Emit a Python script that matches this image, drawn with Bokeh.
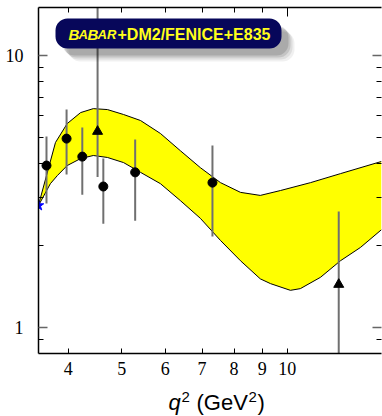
import math
from bokeh.plotting import figure
from bokeh.layouts import column
from bokeh.models import (Range1d, LogAxis, FixedTicker, BoxAnnotation, Label,
                          PrintfTickFormatter)
from bokeh.core.properties import value
from bokeh.embed import file_html
from bokeh.resources import INLINE

# ---------------- data ----------------
band_upper_q2 = [3.53, 3.79, 3.98, 4.21, 4.44, 4.71, 5.04, 5.41, 5.88, 6.39,
                 6.95, 7.56, 8.22, 8.93, 9.72, 11.02, 12.49, 14.83]
band_upper = [2.82, 4.79, 5.62, 6.17, 6.38, 6.33, 6.07, 5.77, 5.17, 4.47,
              3.87, 3.41, 3.14, 3.06, 3.19, 3.41, 3.68, 4.08]
band_lower_q2 = [3.53, 3.71, 3.82, 3.98, 4.21, 4.44, 4.71, 5.04, 5.41, 5.88,
                 6.39, 6.95, 7.56, 8.22, 8.93, 9.32, 10.13, 10.56, 11.49,
                 12.49, 13.58, 14.83]
band_lower = [2.81, 3.38, 3.62, 3.94, 4.18, 4.29, 4.22, 4.04, 3.72, 3.38,
              2.93, 2.52, 2.09, 1.76, 1.51, 1.45, 1.37, 1.39, 1.53,
              1.76, 1.97, 2.29]

circ_q2 = [3.65, 3.97, 4.24, 4.63, 5.29, 7.31]
circ_val = [3.94, 4.95, 4.25, 3.30, 3.72, 3.41]
circ_hi = [5.04, 6.33, 5.44, 4.18, 4.91, 4.67]
circ_lo = [2.86, 3.65, 3.08, 2.41, 2.47, 2.16]

tri_q2 = [4.52, 12.4]
tri_val = [5.26, 1.44]
tri_hi = [20.0, 2.67]
tri_lo = [3.58, 0.5]

star_q2 = [3.53]
star_val = [2.81]

x_ticks = [4, 5, 6, 7, 8, 9, 10]
y_major = [1, 10]
y_minor = [0.9, 2, 3, 4, 5, 6, 7, 8, 9]

X_START, X_END = 3.53, 14.83
Y_START, Y_END = 0.8026, 15.02

W, H = 382, 416
H_MAIN = 386
FL, FR, FT, FB = 38, 381, 7, 353   # frame edges in pixels


def px_x(px):
    a, b = math.log10(X_START), math.log10(X_END)
    return 10 ** (a + (px - FL) / (FR - FL) * (b - a))


def px_y(py):
    a, b = math.log10(Y_START), math.log10(Y_END)
    return 10 ** (a + (FB - py) / (FB - FT) * (b - a))


p = figure(width=W, height=H_MAIN, x_axis_type="log", y_axis_type="log",
           x_range=Range1d(X_START, X_END), y_range=Range1d(Y_START, Y_END),
           output_backend="svg", toolbar_location=None,
           min_border_left=FL, min_border_right=W - FR,
           min_border_top=FT, min_border_bottom=H_MAIN - FB)
p.grid.visible = False
p.outline_line_color = None
p.background_fill_color = "white"
p.border_fill_color = "white"

TICK_FONT = "Liberation Serif"

# bottom axis
xa = p.xaxis[0]
xa.ticker = FixedTicker(ticks=x_ticks, minor_ticks=[])
xa.formatter = PrintfTickFormatter(format="%d")
xa.major_tick_in = 5
xa.major_tick_out = 0
xa.major_tick_line_color = "black"
xa.axis_line_color = "black"
xa.axis_line_width = 1.5
xa.major_label_text_font = TICK_FONT
xa.major_label_text_font_size = "18px"
xa.major_label_text_color = "black"
xa.major_label_standoff = 8

# left axis
ya = p.yaxis[0]
ya.ticker = FixedTicker(ticks=y_major, minor_ticks=y_minor)
ya.formatter = PrintfTickFormatter(format="%d")
ya.major_tick_in = 9
ya.major_tick_out = 0
ya.minor_tick_in = 5
ya.minor_tick_out = 0
ya.major_tick_line_color = "#666666"
ya.major_tick_line_width = 1.5
ya.minor_tick_line_color = "black"
ya.axis_line_color = "black"
ya.axis_line_width = 1.5
ya.major_label_text_font = TICK_FONT
ya.major_label_text_font_size = "18px"
ya.major_label_text_color = "black"
ya.major_label_standoff = 15

# top axis (ticks only)
ta = LogAxis(ticker=FixedTicker(ticks=[10], minor_ticks=[4, 5, 6, 7, 8, 9]))
ta.major_tick_in = 9
ta.major_tick_out = 0
ta.minor_tick_in = 5
ta.minor_tick_out = 0
ta.major_label_text_font_size = "1px"
ta.major_label_text_alpha = 0
ta.major_label_standoff = 0
ta.axis_line_color = "black"
ta.axis_line_width = 1.5
p.add_layout(ta, "above")

# right axis (ticks only)
ra = LogAxis(ticker=FixedTicker(ticks=y_major, minor_ticks=y_minor))
ra.major_tick_in = 9
ra.major_tick_out = 0
ra.minor_tick_in = 5
ra.minor_tick_out = 0
ra.major_tick_line_color = "#666666"
ra.major_tick_line_width = 1.5
ra.major_label_text_font_size = "1px"
ra.major_label_text_alpha = 0
ra.major_label_standoff = 0
ra.axis_line_color = None
p.add_layout(ra, "right")

# yellow band
xs = band_upper_q2 + band_lower_q2[::-1]
ys = band_upper + band_lower[::-1]
p.patch(xs, ys, fill_color="#ffff00", line_color=None)
p.line(band_upper_q2, band_upper, line_color="black", line_width=1)
p.line(band_lower_q2, band_lower, line_color="black", line_width=1)

# error bars
p.segment(x0=circ_q2, y0=circ_lo, x1=circ_q2, y1=circ_hi,
          line_color="#707070", line_width=2)
p.segment(x0=tri_q2, y0=tri_lo, x1=tri_q2, y1=tri_hi,
          line_color="#707070", line_width=2)

# markers
p.scatter(circ_q2, circ_val, marker="circle", size=9, fill_color="black",
          line_color="black")
p.scatter(tri_q2, tri_val, marker="triangle", size=10, fill_color="black",
          line_color="black")
p.scatter(star_q2, star_val, marker="star", size=11, fill_color="blue",
          line_color="blue")

# title box with soft shadow
BOX_L, BOX_R, BOX_T, BOX_B = 55, 281, 18, 48
for d, a in [(13, 0.06), (11, 0.08), (9, 0.11), (7, 0.13)]:
    p.add_layout(BoxAnnotation(left=px_x(BOX_L + d), right=px_x(BOX_R + d),
                               top=px_y(BOX_T + d), bottom=px_y(BOX_B + d),
                               fill_color="black", fill_alpha=a,
                               line_color=None, border_radius=12))
p.add_layout(BoxAnnotation(left=px_x(BOX_L), right=px_x(BOX_R),
                           top=px_y(BOX_T), bottom=px_y(BOX_B),
                           fill_color="#07075a", fill_alpha=1,
                           line_color=None, border_radius=12))

TITLE_Y = px_y(34)
YEL = "#ffff1a"
pieces = [("B", 68, "15px", "bold italic"),
          ("A", 78, "13px", "bold italic"),
          ("B", 87, "15px", "bold italic"),
          ("AR", 97, "13px", "bold italic"),
          ("+DM2/FENICE+E835", 117, "16px", "bold")]
for txt, px, fs, st in pieces:
    p.add_layout(Label(x=px_x(px), y=TITLE_Y, text=txt,
                       text_font="Liberation Sans", text_font_size=fs,
                       text_font_style=st, text_color=YEL,
                       text_baseline="middle", text_align="left"))

# ---------------- x-axis title strip ----------------
# frame of the strip spans the same horizontal pixels as the main frame;
# its ranges are pixel positions (x from page left, y up from strip bottom)
SH = H - H_MAIN
p2 = figure(width=W, height=SH, x_range=Range1d(FL, FR),
            y_range=Range1d(0, SH), output_backend="svg",
            toolbar_location=None, x_axis_location=None,
            y_axis_location=None, title=None,
            min_border=0, min_border_left=FL, min_border_right=W - FR,
            min_border_top=0, min_border_bottom=0)
p2.grid.visible = False
p2.outline_line_color = None
p2.background_fill_color = "white"
p2.border_fill_color = "white"

# (text, x from left, vertical middle above strip bottom, size, style)
title_parts = [("q", 168, 14, "22px", "italic"),
               ("2", 181, 20, "15px", "normal"),
               ("(GeV", 196, 14, "22px", "normal"),
               ("2", 248, 20, "15px", "normal"),
               (")", 257, 14, "22px", "normal")]
for txt, tx, ty, fs, st in title_parts:
    p2.text(x=[tx], y=[ty], text=[txt], text_font=value("Liberation Sans"),
            text_font_size=fs, text_font_style=st, text_color="black",
            text_baseline="middle", text_align="left")

layout = column(p, p2, spacing=0)
open("out.html", "w").write(file_html(layout, INLINE))
